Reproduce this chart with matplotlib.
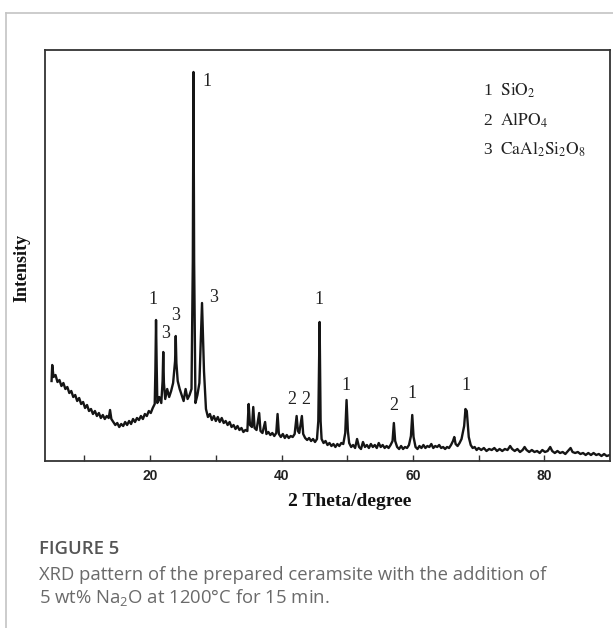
import matplotlib
matplotlib.use("Agg")
import matplotlib.pyplot as plt
from matplotlib.lines import Line2D

# XRD pattern (2theta in degrees, intensity in arbitrary units)
two_theta = [
    5.0, 5.1, 5.3, 5.6, 5.9, 6.2, 6.5, 6.8, 7.1, 7.4,
    7.7, 8.0, 8.3, 8.6, 8.9, 9.2, 9.5, 9.8, 10.1, 10.4,
    10.7, 11.0, 11.3, 11.6, 11.9, 12.2, 12.5, 12.8, 13.1, 13.4,
    13.7, 13.9, 14.1, 14.4, 14.7, 15.0, 15.3, 15.6, 15.9, 16.2,
    16.5, 16.8, 17.1, 17.4, 17.7, 18.0, 18.3, 18.6, 18.9, 19.2,
    19.5, 19.8, 20.1, 20.4, 20.7, 20.8, 20.9, 21.0, 21.1, 21.4,
    21.7, 21.9, 22.0, 22.1, 22.3, 22.6, 22.9, 23.2, 23.5, 23.8,
    23.9, 24.0, 24.2, 24.5, 24.8, 25.1, 25.4, 25.7, 26.0, 26.3,
    26.5, 26.6, 26.7, 26.9, 27.2, 27.5, 27.8, 27.9, 28.0, 28.2,
    28.5, 28.8, 29.1, 29.4, 29.7, 30.0, 30.3, 30.6, 30.9, 31.2,
    31.5, 31.8, 32.1, 32.4, 32.7, 33.0, 33.3, 33.6, 33.9, 34.2,
    34.5, 34.8, 35.0, 35.2, 35.5, 35.7, 35.9, 36.2, 36.6, 36.8,
    37.1, 37.5, 37.7, 38.0, 38.3, 38.6, 38.9, 39.2, 39.4, 39.6,
    39.9, 40.2, 40.5, 40.8, 41.1, 41.4, 41.7, 42.0, 42.3, 42.5,
    42.7, 43.1, 43.3, 43.6, 43.9, 44.2, 44.5, 44.8, 45.1, 45.4,
    45.6, 45.8, 45.95, 46.1, 46.4, 46.7, 47.0, 47.3, 47.6, 47.9,
    48.2, 48.5, 48.8, 49.1, 49.4, 49.7, 49.9, 50.1, 50.3, 50.6,
    50.9, 51.2, 51.5, 51.8, 52.1, 52.4, 52.7, 53.0, 53.3, 53.6,
    53.9, 54.2, 54.5, 54.8, 55.1, 55.4, 55.7, 56.0, 56.3, 56.6,
    56.9, 57.1, 57.3, 57.6, 57.9, 58.2, 58.5, 58.8, 59.1, 59.4,
    59.7, 59.9, 60.1, 60.4, 60.7, 61.0, 61.3, 61.6, 61.9, 62.2,
    62.5, 62.8, 63.1, 63.4, 63.7, 64.0, 64.3, 64.6, 64.9, 65.2,
    65.5, 65.8, 66.1, 66.3, 66.5, 66.8, 67.1, 67.4, 67.8, 68.0,
    68.2, 68.5, 68.8, 69.1, 69.4, 69.7, 70.0, 70.4, 70.8, 71.2,
    71.6, 72.0, 72.4, 72.8, 73.2, 73.6, 74.0, 74.4, 74.8, 75.1,
    75.5, 75.9, 76.3, 76.7, 77.0, 77.3, 77.7, 78.1, 78.5, 78.9,
    79.3, 79.7, 80.1, 80.5, 80.9, 81.2, 81.6, 82.0, 82.4, 82.8,
    83.2, 83.6, 84.0, 84.3, 84.7, 85.1, 85.5, 85.9, 86.3, 86.7,
    87.1, 87.5, 87.9, 88.3, 88.7, 89.1, 89.5, 90.0,
]
intensity = [
    80, 96, 84, 86, 79, 81, 75, 78, 72, 74,
    68, 70, 64, 66, 60, 63, 57, 59, 53, 56,
    50, 52, 47, 50, 45, 48, 43, 46, 42, 45,
    43, 51, 42, 39, 36, 38, 34, 37, 35, 39,
    36, 40, 37, 42, 39, 43, 41, 45, 42, 47,
    45, 50, 48, 53, 57, 90, 141, 95, 58, 64,
    58, 80, 109, 78, 62, 72, 64, 70, 78, 100,
    125, 98, 80, 72, 66, 60, 72, 62, 66, 72,
    200, 389, 200, 58, 66, 78, 140, 158, 135, 90,
    52, 44, 47, 41, 45, 40, 44, 39, 43, 38,
    40, 36, 39, 34, 36, 32, 35, 31, 33, 29,
    31, 30, 57, 36, 34, 54, 33, 31, 48, 30,
    28, 39, 27, 29, 26, 28, 25, 28, 47, 27,
    24, 27, 23, 26, 23, 25, 24, 27, 45, 30,
    28, 45, 27, 23, 21, 23, 20, 22, 19, 22,
    40, 139, 40, 22, 18, 20, 16, 18, 15, 17,
    14, 17, 15, 18, 17, 28, 61, 30, 18, 14,
    16, 13, 22, 14, 12, 19, 14, 16, 13, 17,
    14, 16, 13, 18, 14, 16, 13, 15, 13, 16,
    20, 38, 20, 14, 12, 15, 12, 14, 13, 16,
    25, 46, 24, 14, 12, 15, 13, 16, 13, 15,
    14, 17, 13, 15, 14, 16, 13, 14, 12, 14,
    13, 16, 20, 24, 17, 15, 18, 22, 35, 52,
    50, 24, 16, 13, 14, 11, 13, 11, 13, 10,
    12, 11, 13, 10, 12, 10, 12, 11, 15, 12,
    10, 12, 9, 11, 14, 11, 9, 11, 9, 10,
    8, 11, 9, 10, 14, 10, 8, 10, 8, 9,
    7, 10, 13, 9, 8, 9, 7, 8, 6, 8,
    6, 8, 6, 7, 5, 7, 5, 6,
]

# phase markers over the peaks
peak_labels = ["1", "3", "3", "1", "3", "2", "2", "1", "1", "2", "1", "1"]
peak_x = [20.4, 22.3, 23.9, 28.7, 29.7, 41.6, 43.7, 45.7, 49.8, 57.1, 59.9, 68.1]
peak_y = [161, 128, 146, 379, 163, 61, 61, 161, 76, 56, 68, 76]

legend_lines = [r"1  $\mathrm{SiO_2}$", r"2  $\mathrm{AlPO_4}$",
                r"3  $\mathrm{CaAl_2Si_2O_8}$"]

fig = plt.figure(figsize=(6.13, 6.28), dpi=100)

# card border
fig.add_artist(Line2D([6 / 613, 6 / 613], [0, 1 - 13 / 628], color="#c4c4c4", lw=1.2))
fig.add_artist(Line2D([6 / 613, 1], [1 - 13 / 628, 1 - 13 / 628], color="#c4c4c4", lw=1.2))

ax = fig.add_axes([45 / 613, 1 - 461 / 628, 565 / 613, 411 / 628])
ax.plot(two_theta, intensity, color="#151515", lw=1.7)
ax.set_xlim(4, 90)
ax.set_ylim(0, 411)
ax.set_yticks([])
ax.set_xticks([20, 40, 60, 80])
ax.set_xticks([10, 30, 50, 70], minor=True)
ax.tick_params(axis="x", which="both", direction="in", length=4, width=1, color="#333")
ax.tick_params(axis="x", which="major", pad=6)
for lab in ax.get_xticklabels():
    lab.set_fontfamily("Liberation Sans")
    lab.set_fontweight("bold")
    lab.set_fontsize(10)
    lab.set_color("#222")
for sp in ax.spines.values():
    sp.set_color("#333")
    sp.set_linewidth(1.3)

for t, x, y in zip(peak_labels, peak_x, peak_y):
    ax.text(x, y, t, ha="center", va="center", fontsize=13,
            family="Liberation Serif", color="#222")

for i, s in enumerate(legend_lines):
    ax.text(0.776, 1 - (41 + 29 * i) / 411, s, ha="left", va="center",
            fontsize=12.5, family="Liberation Serif", math_fontfamily="stix",
            color="#222", transform=ax.transAxes)

fig.text(22 / 613, 1 - 268 / 628, "Intensity", rotation=90, ha="center", va="center",
         fontsize=13, family="Liberation Serif", fontweight="bold", color="#111")
fig.text(350 / 613, 1 - 502 / 628, "2 Theta/degree", ha="center", va="center",
         fontsize=14, family="Liberation Serif", fontweight="bold", color="#111")

plt.rcParams["mathtext.fontset"] = "custom"
plt.rcParams["mathtext.rm"] = "Open Sans"
fig.text(39 / 613, 1 - 549 / 628, "FIGURE 5", ha="left", va="center", fontsize=13.3,
         family="Open Sans", fontweight="semibold", color="#555")
fig.text(39 / 613, 1 - 575 / 628, "XRD pattern of the prepared ceramsite with the addition of",
         ha="left", va="center", fontsize=13.3, family="Open Sans", color="#6a6a6a")
fig.text(39 / 613, 1 - 597 / 628, r"5 wt% Na$_\mathrm{2}$O at 1200°C for 15 min.",
         ha="left", va="center", fontsize=13.3, family="Open Sans", color="#6a6a6a",
         math_fontfamily="custom")

fig.savefig("out.png", dpi=100)
